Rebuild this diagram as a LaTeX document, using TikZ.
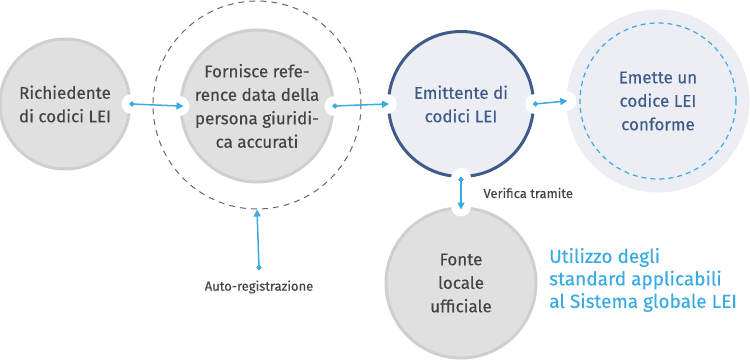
\documentclass[tikz,border=0pt]{standalone}
\usepackage{fontspec}
\setmainfont{Fira Sans}[FakeBold=0.3]
\usepackage{xcolor}
\usetikzlibrary{arrows.meta}
\definecolor{leiblue}{HTML}{3AAAE3}
\definecolor{leinavy}{HTML}{3E5B8A}
\definecolor{leigray}{HTML}{E0E0E0}
\definecolor{leirim}{HTML}{CFCFCF}
\definecolor{leipale}{HTML}{ECEEF4}
\definecolor{leitext}{HTML}{444444}
\begin{document}
\begin{tikzpicture}[x=1pt,y=-1pt,
    graynode/.style={circle,draw=leirim,fill=leigray,line width=3pt,text=leitext,
      align=center,inner sep=0pt,font=\fontsize{17}{23.5}\selectfont},
    navynode/.style={circle,draw=leinavy,fill=leipale,line width=3pt,text=leinavy,
      align=center,inner sep=0pt,font=\fontsize{17}{23.5}\selectfont},
    palenode/.style={circle,fill=leipale,text=leinavy,align=center,inner sep=0pt,
      font=\fontsize{17}{23.5}\selectfont},
    ring/.style={circle,draw,line width=1pt,inner sep=0pt},
    notch/.style={circle,fill=white,minimum size=20pt,inner sep=0pt},
    flow/.style={leiblue,line width=1.5pt,{Circle[length=5pt]}-{Triangle[length=7pt,width=7pt]}},
    smalltext/.style={text=leitext,font=\fontsize{13}{15}\selectfont} ]
    \useasboundingbox (0,0) rectangle (750,361);
    \node at (257,105) [ring,draw=black!60,dash pattern=on 6pt off 5pt,minimum size=208pt] (selfreg) {};
    \node at (65,104) [graynode,minimum size=130pt] (richiedente) {Richiedente\\di codici LEI};
    \node at (257,106) [graynode,minimum size=152pt] (fornisce) {Fornisce refe-\\rence data della\\persona giuridi-\\ca accurati};
    \node at (461,104) [navynode,minimum size=145pt] (emittente) {Emittente di\\codici LEI};
    \node at (658,101) [palenode,minimum size=183pt] (emette) {Emette un\\codice LEI\\conforme};
    \node at (emette) [ring,draw=leiblue,line width=1.2pt,dash pattern=on 5pt off 4pt,minimum size=156pt] (emetteinner) {};
    \node at (461,283) [graynode,minimum size=150pt] (fonte) {Fonte\\locale\\ufficiale};
    % white cut-outs where the arrows meet the circles
    \node at (richiedente.east) [notch] (n1) {};
    \node at (fornisce.west) [notch] (n2) {};
    \node at (fornisce.east) [notch] (n3) {};
    \node at (emittente.west) [notch] (n4) {};
    \node at (emittente.east) [notch] (n5) {};
    \node at (emette.west) [notch] (n6) {};
    \node at (emittente.south) [notch] (n7) {};
    \node at (fonte.north) [notch] (n8) {};
    \draw [flow,shorten <=-2pt,shorten >=-4pt] (richiedente.east) to (fornisce.west);
    \draw [flow,shorten <=-2pt,shorten >=-2pt] (fornisce.east) to (emittente.west);
    \draw [flow,shorten <=-2pt,shorten >=-1pt] (emittente.east) to (emette.west);
    \draw [flow,shorten <=-1pt,shorten >=-3pt] (emittente.south) to (fonte.north);
    \coordinate (autoreg) at (259,268);
    \draw [flow,shorten <=-2pt] (autoreg) to (selfreg.south);
    \node at (480,193) [smalltext,anchor=west] (verifica) {Verifica tramite};
    \node at (259,287) [smalltext] (autoregtext) {Auto-registrazione};
    \node at (549,280) [anchor=west,align=left,text=leiblue,inner sep=0pt,
      font=\fontsize{19}{22.5}\selectfont] (standard) {Utilizzo degli\\standard applicabili\\al Sistema globale LEI};
\end{tikzpicture}
\end{document}
